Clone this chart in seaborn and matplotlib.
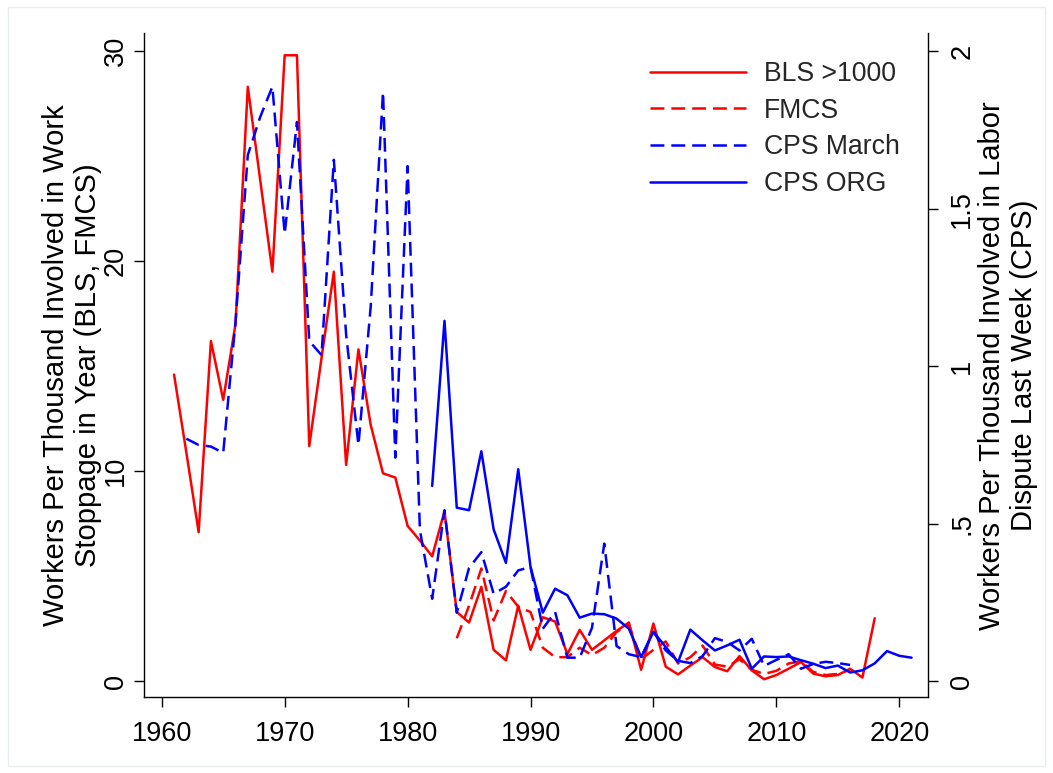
import numpy as np
import pandas as pd
import matplotlib
matplotlib.use("Agg")
import matplotlib.pyplot as plt
import matplotlib.patches as mpatches
import seaborn as sns

# ---------------- data ----------------
bls_years = list(range(1961, 2019))
bls_vals = [14.6, 10.9, 7.1, 16.2, 13.4, 17.0, 28.3, 23.9, 19.5, 29.8,
            29.8, 11.2, 15.4, 19.5, 10.3, 15.8, 12.2, 9.9, 9.7, 7.4,
            6.7, 5.95, 8.1, 3.3, 2.8, 4.5, 1.5, 1.0, 3.6, 1.5,
            3.05, 2.85, 1.3, 2.45, 1.5, 1.95, 2.4, 2.8, 0.55, 2.75,
            0.7, 0.33, 0.75, 1.15, 0.68, 0.48, 1.2, 0.52, 0.1, 0.3,
            0.6, 0.92, 0.37, 0.24, 0.3, 0.6, 0.18, 3.0]

fmcs_years = list(range(1984, 2017))
fmcs_vals = [2.05, 3.6, 5.37, 2.9, 4.3, 3.55, 3.3, 1.6, 1.15, 1.15,
             1.6, 1.25, 1.6, 2.35, 2.7, 1.05, 1.5, 1.9, 0.85, 1.15,
             1.7, 0.8, 0.7, 1.05, 0.55, 0.35, 0.5, 0.85, 0.95, 0.45,
             0.3, 0.35, 0.55]

march_years = list(range(1962, 2017))
march_vals = [0.77, 0.75, 0.745, 0.725, 1.14, 1.67, 1.79, 1.887, 1.42, 1.775,
              1.08, 1.035, 1.655, 1.10, 0.75, 1.19, 1.87, 0.71, 1.635, 0.48,
              0.262, 0.543, 0.218, 0.36, 0.41, 0.278, 0.30, 0.352, 0.363, 0.167,
              0.22, 0.075, 0.075, 0.17, 0.437, 0.112, 0.086, 0.077, 0.157, 0.098,
              0.065, 0.058, 0.08, 0.137, 0.125, 0.098, 0.135, 0.049, 0.068, 0.086,
              0.04, 0.055, 0.062, 0.058, 0.052]

org_years = list(range(1982, 2022))
org_vals = [0.62, 1.144, 0.551, 0.543, 0.73, 0.482, 0.376, 0.673, 0.363, 0.218,
            0.294, 0.273, 0.202, 0.215, 0.213, 0.199, 0.167, 0.077, 0.157, 0.109,
            0.061, 0.164, 0.13, 0.098, 0.114, 0.132, 0.040, 0.079, 0.077, 0.079,
            0.067, 0.056, 0.042, 0.050, 0.028, 0.035, 0.057, 0.096, 0.081, 0.075]

x_ticks = [1960, 1970, 1980, 1990, 2000, 2010, 2020]
left_ticks = [0, 10, 20, 30]
right_ticks = [0, 0.5, 1, 1.5, 2]
right_tick_labels = ["0", ".5", "1", "1.5", "2"]

labels = ["BLS >1000", "FMCS", "CPS March", "CPS ORG"]

# ---------------- style ----------------
sns.set_theme(style="white")
plt.rcParams["font.family"] = ["Liberation Sans", "DejaVu Sans"]
FS_TICK = 19.5
FS_LAB = 21
FS_LEG = 19.2

fig = plt.figure(figsize=(10.53, 7.73), dpi=100)
ax = fig.add_axes([144.3 / 1053, 1 - 697.3 / 773, (928.3 - 144.3) / 1053, (697.3 - 33) / 773])
ax2 = ax.twinx()

LW = 1.8
DASH = (10.0 / LW, 5.0 / LW)

sns.lineplot(x=bls_years, y=bls_vals, ax=ax, color="#ff0000", linewidth=LW)
sns.lineplot(x=fmcs_years, y=fmcs_vals, ax=ax, color="#ff0000", linewidth=LW)
ax.lines[-1].set_dashes(DASH)
sns.lineplot(x=march_years, y=march_vals, ax=ax2, color="#0000ff", linewidth=LW)
ax2.lines[-1].set_dashes(DASH)
sns.lineplot(x=org_years, y=org_vals, ax=ax2, color="#0000ff", linewidth=LW)

# axes limits
ax.set_xlim(1958.58, 2022.36)
ax.set_ylim(-0.76, 30.86)
ax2.set_ylim(-0.76 / 15, 30.86 / 15)

# ticks
ax.set_xticks(x_ticks)
ax.set_xticklabels([str(t) for t in x_ticks], fontsize=FS_TICK)
ax.set_yticks(left_ticks)
ax.set_yticklabels([str(t) for t in left_ticks], fontsize=FS_TICK, rotation=90, va="center")
ax2.set_yticks(right_ticks)
ax2.set_yticklabels(right_tick_labels, fontsize=FS_TICK, rotation=90, va="center")

for a in (ax, ax2):
    a.tick_params(axis="both", direction="out", length=7, width=1, color="black",
                  labelcolor="black")
    a.tick_params(axis="x", pad=10)
    for s in ["left", "right", "bottom"]:
        a.spines[s].set_color("black")
        a.spines[s].set_linewidth(1.0)
    a.spines["top"].set_visible(False)
    a.grid(False)
ax.tick_params(axis="y", pad=4)
ax2.tick_params(axis="y", pad=8)
ax.spines["right"].set_visible(False)
ax2.spines["left"].set_visible(False)
ax2.spines["bottom"].set_visible(False)
ax.tick_params(axis="y", left=True, right=False)
ax2.tick_params(axis="y", right=True, left=False)
ax.tick_params(axis="x", bottom=True)

ax.set_xlabel("")
ax.set_ylabel("Workers Per Thousand Involved in Work\nStoppage in Year (BLS, FMCS)",
              fontsize=FS_LAB, color="black", linespacing=1.18)
ax.yaxis.set_label_coords(-0.054, 0.5)
ax2.set_ylabel("Workers Per Thousand Involved in Labor\nDispute Last Week (CPS)",
               fontsize=FS_LAB, color="black", linespacing=1.18, rotation=90)
ax2.yaxis.set_label_coords(1.064, 0.5)

# legend
handles = [ax.lines[0], ax.lines[1], ax2.lines[0], ax2.lines[1]]
leg = ax2.legend(handles, labels, loc="upper left", bbox_to_anchor=(0.645, 0.958),
                 frameon=False, fontsize=FS_LEG, handlelength=3.6, handletextpad=0.66,
                 labelspacing=0.40, borderpad=0, borderaxespad=0)

# faint outer border
fig.patches.append(mpatches.Rectangle((8 / 1053, 1 - 766 / 773), (1045 - 8) / 1053, (766 - 7) / 773,
                                      transform=fig.transFigure, fill=False,
                                      edgecolor="#e8eef0", linewidth=1.0))

fig.savefig("out.png", dpi=100, facecolor="white")
